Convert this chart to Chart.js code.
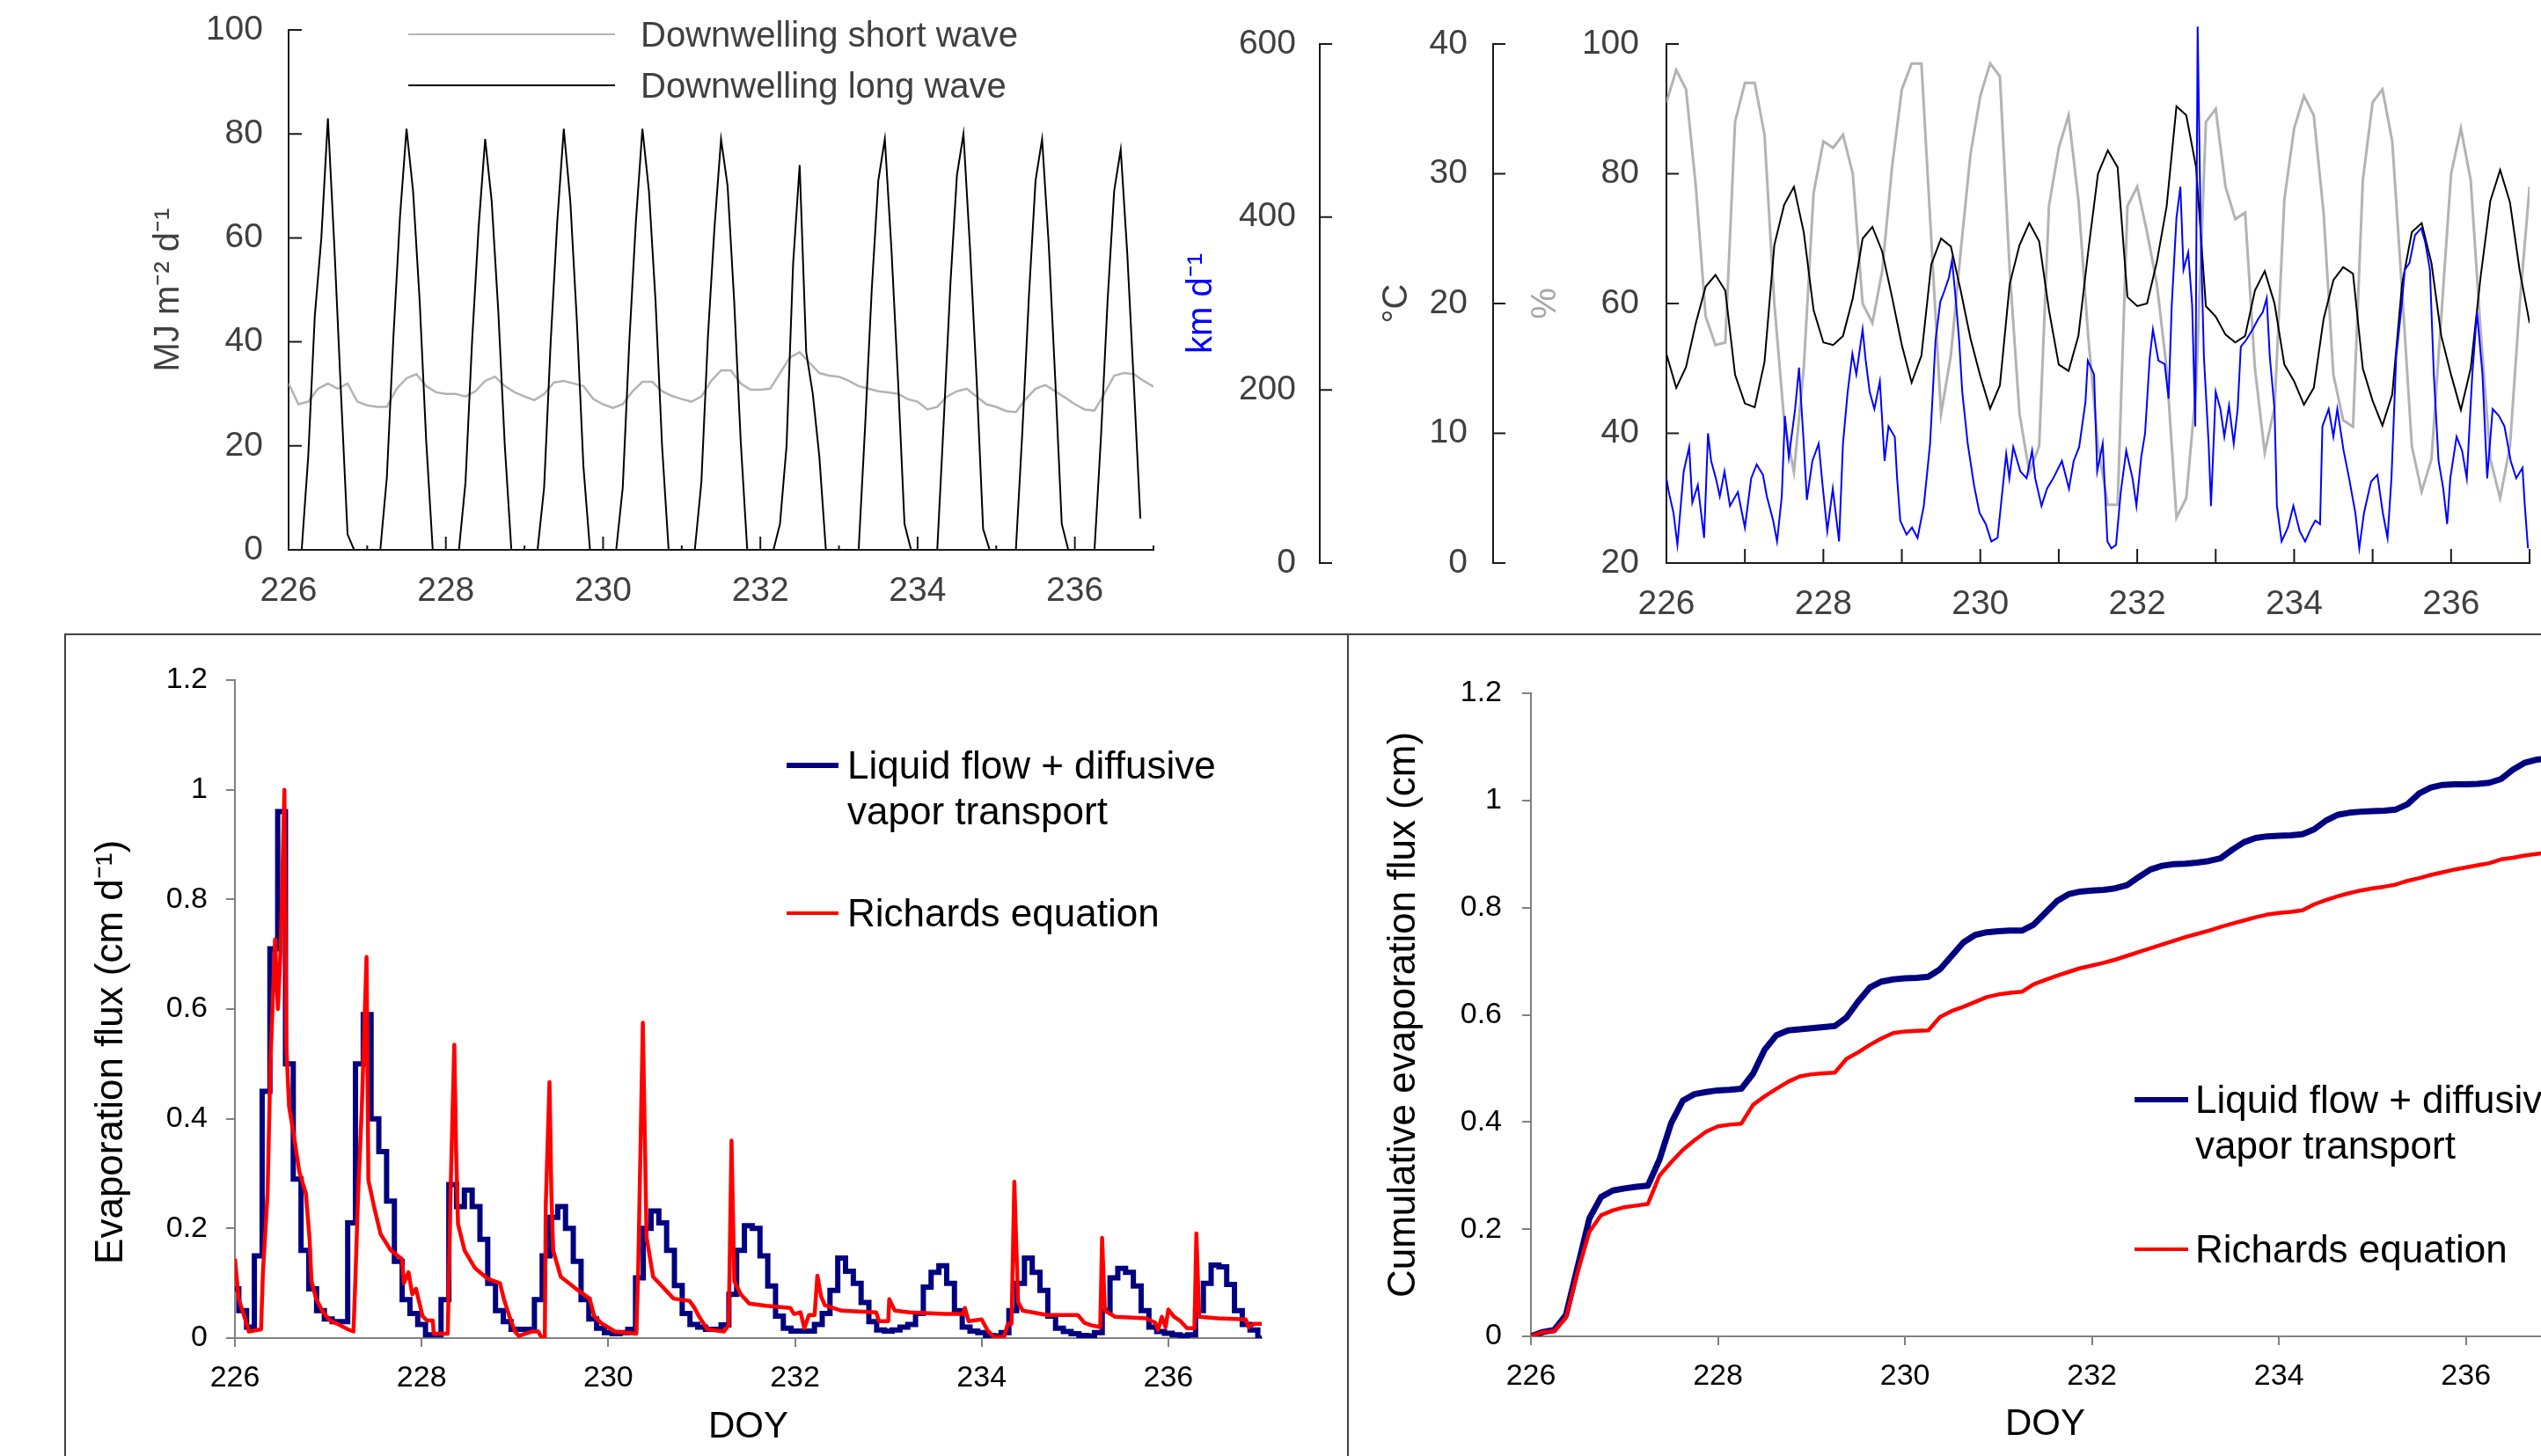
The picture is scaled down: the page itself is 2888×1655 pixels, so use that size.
<!DOCTYPE html>
<html>
<head>
<meta charset="utf-8">
<title>Radiation, weather and evaporation, DOY 226-237</title>
<script src="https://cdn.jsdelivr.net/npm/chart.js@4.4.1/dist/chart.umd.min.js"></script>
<style>
  html, body { margin: 0; padding: 0; background: #fff; width: 2888px; height: 1655px; overflow: hidden; }
  body { position: relative; font-family: 'Liberation Sans', Arial, sans-serif; }
  canvas { position: absolute; }
  .box { position: absolute; border: 2px solid #404040; box-sizing: border-box; }
  .leg { position: absolute; display: flex; align-items: flex-start; white-space: nowrap; }
  .leg .sw { display: block; flex: none; }
</style>
</head>
<body>
<div class="box" style="left:73px; top:720px; width:1460px; height:1100px;"></div>
<div class="box" style="left:1531px; top:720px; width:1500px; height:1100px;"></div>
<canvas id="c-rad" width="1320" height="720" style="left:0; top:0;"></canvas>
<canvas id="c-met" width="1568" height="720" style="left:1320px; top:0;"></canvas>
<canvas id="c-flux" width="1455" height="932" style="left:76px; top:723px;"></canvas>
<canvas id="c-cum" width="1450" height="932" style="left:1535px; top:723px;"></canvas>
<script>
// sampling grids (day of year)
const T_2H = Array.from({ length: 133 }, (_, i) => 226 + i / 12);
const T_3H = Array.from({ length: 89 }, (_, i) => 226 + i / 8);

// --- top left: radiation, MJ m-2 d-1 ---
const LONG_WAVE = [
  0, 0, 0, 18, 45, 60, 83, 58, 30, 3, 0, 0,
  0, 0, 0, 14, 41, 64, 81, 69, 48, 21, 0, 0,
  0, 0, 0, 13, 40, 62, 79, 67, 46, 20, 0, 0,
  0, 0, 0, 12, 40, 63, 81, 67, 44, 16, 0, 0,
  0, 0, 0, 12, 40, 63, 81, 69, 48, 20, 0, 0,
  0, 0, 0, 13, 41, 62, 79, 70, 48, 21, 0, 0,
  0, 0, 0, 5, 20, 55, 74, 38, 30, 18, 0, 0,
  0, 0, 0, 0, 24, 50, 71, 79, 58, 33, 5, 0,
  0, 0, 0, 0, 25, 51, 72, 80, 58, 33, 4, 0,
  0, 0, 0, 0, 23, 49, 71, 79, 59, 33, 5, 0,
  0, 0, 0, 0, 22, 48, 69, 77, 57, 32, 6,
];
const SHORT_WAVE = [
  32, 28, 28.5, 31, 32, 31, 32, 28.5,
  27.8, 27.5, 27.5, 31, 33, 33.8, 31.5, 30.3,
  30, 30, 29.5, 30.5, 32.5, 33.3, 31.5, 30.3,
  29.5, 28.8, 30, 32.2, 32.5, 32, 31.5, 29,
  28, 27.3, 28, 30.5, 32.3, 32.3, 30.5, 29.6,
  29, 28.5, 29.5, 32.5, 34.5, 34.5, 32, 30.8,
  30.8, 31, 34, 37, 38, 36, 34, 33.5,
  33.3, 32.5, 31.5, 31, 30.5, 30.3, 30, 29,
  28.5, 27, 27.5, 29.5, 30.5, 31, 29.5, 28,
  27.5, 26.7, 26.5, 29, 31, 31.7, 30.5, 29.3,
  28, 27, 26.8, 30, 33.5, 34, 33.8, 32.5,
  31.4,
];

// --- top right: wind (km d-1), air temperature (°C), relative humidity (%) ---
const WIND_T = [
  226.00, 226.03, 226.09, 226.14, 226.22, 226.29, 226.33, 226.40, 226.48, 226.53,
  226.57, 226.63, 226.68, 226.74, 226.81, 226.91, 227.00, 227.08, 227.15, 227.23,
  227.28, 227.36, 227.41, 227.47, 227.51, 227.56, 227.64, 227.69, 227.75, 227.79,
  227.86, 227.94, 227.99, 228.05, 228.12, 228.20, 228.25, 228.31, 228.37, 228.42,
  228.50, 228.54, 228.59, 228.65, 228.72, 228.78, 228.83, 228.91, 228.94, 228.98,
  229.06, 229.13, 229.20, 229.28, 229.36, 229.43, 229.49, 229.54, 229.60, 229.64,
  229.69, 229.73, 229.77, 229.84, 229.92, 229.99, 230.07, 230.14, 230.22, 230.33,
  230.37, 230.42, 230.51, 230.59, 230.66, 230.70, 230.78, 230.85, 230.93, 231.04,
  231.13, 231.19, 231.26, 231.34, 231.37, 231.45, 231.49, 231.56, 231.62, 231.67,
  231.73, 231.79, 231.86, 231.94, 231.99, 232.05, 232.10, 232.16, 232.20, 232.27,
  232.35, 232.40, 232.44, 232.50, 232.55, 232.59, 232.65, 232.70, 232.74, 232.77,
  232.81, 232.85, 232.91, 232.94, 233.00, 233.06, 233.11, 233.17, 233.23, 233.28,
  233.32, 233.39, 233.47, 233.54, 233.60, 233.65, 233.69, 233.75, 233.78, 233.84,
  233.92, 233.99, 234.07, 234.14, 234.22, 234.27, 234.33, 234.36, 234.44, 234.50,
  234.55, 234.63, 234.70, 234.78, 234.83, 234.89, 234.98, 235.06, 235.13, 235.19,
  235.24, 235.30, 235.37, 235.41, 235.47, 235.54, 235.62, 235.67, 235.73, 235.78,
  235.84, 235.90, 235.95, 235.99, 236.07, 236.14, 236.20, 236.27, 236.33, 236.40,
  236.46, 236.53, 236.61, 236.68, 236.76, 236.83, 236.91, 236.94, 236.98,
];
const WIND = [
  98, 82, 58, 21, 106, 134, 70, 90, 29, 150,
  118, 98, 77, 106, 66, 82, 41, 98, 114, 102,
  77, 49, 25, 77, 170, 122, 178, 226, 138, 73,
  118, 138, 90, 37, 86, 25, 138, 198, 242, 218,
  270, 234, 198, 178, 210, 118, 158, 146, 98, 49,
  33, 41, 29, 66, 138, 258, 302, 314, 330, 350,
  302, 258, 198, 138, 90, 58, 45, 25, 29, 126,
  98, 134, 106, 98, 130, 98, 66, 86, 98, 118,
  86, 118, 134, 186, 234, 218, 106, 138, 25, 17,
  21, 82, 130, 98, 66, 122, 150, 238, 270, 234,
  230, 190, 298, 399, 435, 339, 359, 298, 158, 620,
  379, 238, 138, 66, 198, 178, 146, 182, 138, 178,
  250, 258, 270, 282, 290, 306, 238, 178, 66, 25,
  41, 66, 37, 25, 41, 49, 45, 158, 178, 146,
  178, 130, 98, 58, 17, 58, 94, 102, 58, 29,
  98, 238, 298, 339, 347, 379, 387, 371, 339, 218,
  118, 86, 45, 98, 146, 130, 98, 218, 290, 218,
  98, 178, 170, 158, 118, 98, 110, 66, 17,
];
const AIR_TEMP = [
  16.1, 13.5, 15.1, 18.5, 21.3, 22.2, 21, 14.5,
  12.3, 12, 15.5, 24.5, 27.6, 29, 25.5, 19.5,
  17, 16.8, 17.5, 20.4, 25, 25.9, 24, 20.5,
  16.8, 13.9, 16, 23, 25, 24.4, 21, 17.3,
  14.4, 11.9, 13.7, 21.5, 24.5, 26.2, 24.8, 19.5,
  15.3, 14.8, 17.5, 24, 30, 31.8, 30.5, 20.5,
  19.8, 20, 23.2, 27.5, 35.2, 34.5, 30.5, 19.8,
  19, 17.6, 17, 17.5, 21, 22.5, 20, 15.3,
  14, 12.2, 13.5, 18.8, 21.8, 22.8, 22.3, 15,
  12.5, 10.6, 13, 21.5, 25.5, 26.2, 23.1, 17.5,
  14.5, 11.8, 15, 22, 27.9, 30.3, 27.8, 22.5,
  18.5,
];
const REL_HUM = [
  91, 96, 93, 78, 58, 53.6, 54, 88,
  94, 94, 86, 60, 42, 34, 50, 77,
  85, 84, 86, 80, 60, 57, 65, 81,
  93, 97, 97, 70, 43, 52, 68, 83,
  92, 97, 95, 65, 43, 34, 38, 75,
  84, 89, 76, 55, 38, 29, 29, 75,
  78, 71, 63, 50, 27, 30, 47, 88,
  90, 78, 73, 74, 50, 37, 44, 76,
  87, 92, 89, 74, 49, 42, 41, 79,
  91, 93, 85, 62, 38, 31, 36, 58,
  80, 87, 79, 56, 36, 30, 38, 60,
  78,
];

// --- bottom left: evaporation flux, cm d-1 ---
const FLUX_VAPOR = [
  0.09, 0.05, 0.02, 0.15, 0.45, 0.71, 0.96, 0.50, 0.29, 0.16, 0.09, 0.05,
  0.035, 0.03, 0.03, 0.21, 0.50, 0.59, 0.40, 0.34, 0.25, 0.14, 0.07, 0.045,
  0.025, 0.006, 0.006, 0.07, 0.28, 0.24, 0.27, 0.24, 0.18, 0.10, 0.05, 0.03,
  0.016, 0.016, 0.016, 0.07, 0.15, 0.22, 0.24, 0.2, 0.14, 0.07, 0.035, 0.018,
  0.01, 0.008, 0.01, 0.016, 0.11, 0.2, 0.232, 0.21, 0.16, 0.096, 0.045, 0.025,
  0.02, 0.016, 0.016, 0.024, 0.08, 0.16, 0.205, 0.2, 0.15, 0.095, 0.04, 0.018,
  0.013, 0.013, 0.013, 0.025, 0.045, 0.087, 0.146, 0.122, 0.1, 0.065, 0.03, 0.015,
  0.013, 0.015, 0.02, 0.025, 0.045, 0.093, 0.12, 0.132, 0.1, 0.05, 0.02, 0.013,
  0.01, 0.005, 0.004, 0.01, 0.05, 0.1, 0.146, 0.12, 0.087, 0.04, 0.018, 0.012,
  0.008, 0.005, 0.004, 0.01, 0.05, 0.11, 0.127, 0.12, 0.095, 0.05, 0.02, 0.012,
  0.009, 0.006, 0.004, 0.006, 0.05, 0.1, 0.133, 0.13, 0.098, 0.05, 0.025, 0.015,
  0,
];
const RICH_T = [
  226.00, 226.04, 226.10, 226.15, 226.28, 226.30, 226.35, 226.38, 226.43, 226.46,
  226.49, 226.53, 226.55, 226.58, 226.64, 226.69, 226.76, 226.80, 226.82, 226.87,
  226.94, 227.02, 227.12, 227.21, 227.27, 227.29, 227.32, 227.36, 227.41, 227.43,
  227.49, 227.56, 227.67, 227.79, 227.81, 227.86, 227.90, 227.94, 228.01, 228.06,
  228.12, 228.13, 228.28, 228.31, 228.35, 228.37, 228.39, 228.46, 228.57, 228.71,
  228.84, 228.88, 228.94, 229.00, 229.04, 229.18, 229.25, 229.29, 229.32, 229.33,
  229.37, 229.39, 229.41, 229.49, 229.67, 229.80, 229.85, 229.92, 230.07, 230.30,
  230.32, 230.37, 230.41, 230.48, 230.70, 230.87, 230.92, 230.97, 231.06, 231.24,
  231.29, 231.32, 231.35, 231.42, 231.51, 231.69, 231.95, 231.99, 232.06, 232.10,
  232.15, 232.21, 232.24, 232.28, 232.32, 232.50, 232.87, 232.90, 233.00, 233.01,
  233.07, 233.23, 233.60, 233.80, 233.82, 233.86, 234.00, 234.06, 234.13, 234.24,
  234.28, 234.32, 234.35, 234.39, 234.44, 234.70, 235.03, 235.10, 235.18, 235.27,
  235.29, 235.32, 235.43, 235.76, 235.86, 235.89, 235.93, 235.97, 236.00, 236.06,
  236.13, 236.20, 236.28, 236.30, 236.33, 236.53, 236.83, 236.86, 236.92, 237.00,
];
const RICH_FLUX = [
  0.145, 0.072, 0.040, 0.012, 0.016, 0.12, 0.264, 0.50, 0.727, 0.60,
  0.71, 1.00, 0.535, 0.423, 0.36, 0.303, 0.264, 0.18, 0.104, 0.072,
  0.048, 0.032, 0.024, 0.016, 0.012, 0.104, 0.264, 0.423, 0.695, 0.288,
  0.24, 0.19, 0.16, 0.144, 0.10, 0.12, 0.08, 0.09, 0.04, 0.032,
  0.032, 0.008, 0.008, 0.264, 0.535, 0.34, 0.208, 0.16, 0.128, 0.108,
  0.10, 0.072, 0.04, 0.012, 0.004, 0.012, 0.012, 0.0, 0.0, 0.24,
  0.467, 0.264, 0.16, 0.112, 0.088, 0.072, 0.04, 0.028, 0.012, 0.008,
  0.12, 0.575, 0.184, 0.112, 0.072, 0.068, 0.056, 0.04, 0.016, 0.012,
  0.024, 0.36, 0.104, 0.08, 0.063, 0.059, 0.055, 0.044, 0.047, 0.018,
  0.042, 0.042, 0.114, 0.076, 0.06, 0.05, 0.047, 0.031, 0.031, 0.071,
  0.05, 0.047, 0.044, 0.044, 0.055, 0.031, 0.034, 0.015, 0.002, 0.002,
  0.026, 0.026, 0.285, 0.066, 0.05, 0.042, 0.042, 0.028, 0.023, 0.02,
  0.183, 0.05, 0.039, 0.036, 0.028, 0.015, 0.039, 0.02, 0.052, 0.039,
  0.031, 0.018, 0.018, 0.191, 0.039, 0.036, 0.034, 0.02, 0.026, 0.026,
];

// --- bottom right: cumulative evaporation, cm ---
const CUM_VAPOR = [
  0, 0.008, 0.012, 0.04, 0.13, 0.22, 0.26, 0.272,
  0.276, 0.279, 0.281, 0.33, 0.398, 0.44, 0.452, 0.456,
  0.459, 0.46, 0.462, 0.49, 0.535, 0.562, 0.571, 0.573,
  0.575, 0.577, 0.579, 0.595, 0.625, 0.651, 0.662, 0.666,
  0.668, 0.669, 0.671, 0.685, 0.71, 0.735, 0.749, 0.754,
  0.756, 0.757, 0.757, 0.768, 0.79, 0.812, 0.825, 0.83,
  0.832, 0.833, 0.836, 0.842, 0.857, 0.871, 0.878, 0.881,
  0.882, 0.884, 0.887, 0.892, 0.908, 0.922, 0.93, 0.933,
  0.934, 0.935, 0.937, 0.946, 0.962, 0.973, 0.977, 0.979,
  0.98, 0.981, 0.983, 0.993, 1.013, 1.024, 1.029, 1.03,
  1.03, 1.031, 1.033, 1.04, 1.057, 1.07, 1.076, 1.078,
  1.079,
];
const CUM_RICH = [
  0, 0.008, 0.01, 0.035, 0.12, 0.195, 0.226, 0.235,
  0.241, 0.244, 0.247, 0.3, 0.325, 0.348, 0.366, 0.382,
  0.392, 0.395, 0.397, 0.432, 0.448, 0.462, 0.475, 0.485,
  0.489, 0.491, 0.492, 0.518, 0.53, 0.544, 0.556, 0.566,
  0.569, 0.57, 0.571, 0.596, 0.607, 0.615, 0.624, 0.633,
  0.638, 0.641, 0.643, 0.657, 0.665, 0.673, 0.68, 0.687,
  0.692, 0.697, 0.703, 0.71, 0.717, 0.724, 0.731, 0.738,
  0.745, 0.751, 0.757, 0.764, 0.77, 0.776, 0.782, 0.787,
  0.79, 0.792, 0.795, 0.806, 0.814, 0.821, 0.827, 0.832,
  0.836, 0.839, 0.843, 0.85, 0.855, 0.861, 0.866, 0.871,
  0.875, 0.879, 0.883, 0.89, 0.893, 0.897, 0.9, 0.903,
  0.906,
];

const NAVY = '#000080';
const RED = '#ff0000';
const GREY_LINE = '#b3b3b3';
const TEXT_TOP = '#404040';

Chart.defaults.font.family = "'Liberation Sans', Arial, sans-serif";
Chart.defaults.animation = false;
Chart.defaults.elements.point.radius = 0;
Chart.defaults.elements.line.tension = 0;
Chart.defaults.plugins.legend.display = false;
Chart.defaults.plugins.tooltip.enabled = false;

function xy(xs, ys) {
  return ys.map((y, i) => ({ x: xs[i], y }));
}

// short tick marks pointing into the plot, like the original figure
function innerTicks(axes) {
  return {
    id: 'innerTicks',
    afterDatasetsDraw(chart) {
      const { ctx } = chart;
      ctx.save();
      ctx.strokeStyle = '#1a1a1a';
      ctx.lineWidth = 2;
      ctx.beginPath();
      axes.forEach(({ id, major, minor = major, every = 1 }) => {
        const scale = chart.scales[id];
        scale.ticks.forEach((t) => {
          const len = (t.value - scale.min) % every === 0 ? major : minor;
          const p = scale.getPixelForValue(t.value);
          if (scale.isHorizontal()) {
            ctx.moveTo(p, scale.top);
            ctx.lineTo(p, scale.top - len);
          } else {
            ctx.moveTo(scale.right, p);
            ctx.lineTo(scale.right + len, p);
          }
        });
      });
      ctx.stroke();
      ctx.restore();
    },
  };
}

// the label gap is given as an (undrawn) tick length, so that it does not
// widen the layout padding the way ticks.padding does
function topAxisX(height) {
  return {
    type: 'linear', min: 226, max: 237,
    grid: { display: false, drawTicks: true, tickLength: 24 },
    border: { color: '#1a1a1a', width: 2 },
    ticks: {
      stepSize: 1, autoSkip: false, maxRotation: 0, padding: 0,
      font: { size: 39 }, color: TEXT_TOP,
      callback: (v) => (v % 2 === 0 ? v : ''),
    },
    afterFit: (s) => { s.height = height; },
  };
}

function topAxisY(opts) {
  return {
    position: 'left', weight: opts.weight || 0,
    min: opts.min, max: opts.max,
    grid: { display: false, drawTicks: true, tickLength: opts.pad },
    border: { color: '#1a1a1a', width: 2 },
    ticks: { stepSize: opts.step, padding: 0, font: { size: 39 }, color: TEXT_TOP },
    title: {
      display: true, text: opts.title, color: opts.titleColor || TEXT_TOP,
      font: { size: 40 }, padding: { top: opts.titlePad, bottom: 0 },
    },
    afterFit: (s) => { s.width = opts.width; },
  };
}

function bottomAxisX(height, titlePad) {
  return {
    type: 'linear', min: 226, max: 237,
    grid: { display: true, drawOnChartArea: false, drawTicks: true, tickLength: 10, color: '#808080', lineWidth: 2 },
    border: { color: '#808080', width: 2 },
    ticks: { stepSize: 2, includeBounds: false, autoSkip: false, maxRotation: 0, padding: 15, font: { size: 34 }, color: '#000' },
    title: { display: true, text: 'DOY', color: '#000', font: { size: 42 }, padding: { top: 0, bottom: titlePad } },
    afterFit: (s) => { s.height = height; },
  };
}

function bottomAxisY(text, width, titlePad, tickPad) {
  return {
    min: 0, max: 1.2,
    grid: { display: true, drawOnChartArea: false, drawTicks: true, tickLength: 10, color: '#808080', lineWidth: 2 },
    border: { color: '#808080', width: 2 },
    ticks: {
      stepSize: 0.2, padding: tickPad, font: { size: 34 }, color: '#000',
      callback: (v) => String(Math.round(v * 10) / 10),
    },
    title: { display: true, text, color: '#000', font: { size: 44 }, padding: { top: titlePad, bottom: 0 } },
    afterFit: (s) => { s.width = width; },
  };
}

// top left: radiation
new Chart(document.getElementById('c-rad'), {
  type: 'line',
  data: {
    datasets: [
      { label: 'Downwelling long wave', data: xy(T_2H, LONG_WAVE), borderColor: '#000', borderWidth: 2 },
      { label: 'Downwelling short wave', data: xy(T_3H, SHORT_WAVE), borderColor: GREY_LINE, borderWidth: 2.5 },
    ],
  },
  options: {
    responsive: false, devicePixelRatio: 1,
    layout: { padding: { left: 0, top: 34, right: 9, bottom: 5 } },
    scales: {
      x: topAxisX(90),
      y: topAxisY({ min: 0, max: 100, step: 20, pad: 29, title: 'MJ m\u207B\u00B2 d\u207B\u00B9', titlePad: 168, width: 328 }),
    },
  },
  plugins: [innerTicks([{ id: 'x', major: 15, minor: 5, every: 2 }, { id: 'y', major: 15 }])],
});

// top right: wind, temperature, humidity
new Chart(document.getElementById('c-met'), {
  type: 'line',
  data: {
    datasets: [
      { label: 'Wind run', data: xy(WIND_T, WIND), yAxisID: 'yW', borderColor: '#0000ff', borderWidth: 2, clip: false },
      { label: 'Air temperature', data: xy(T_3H, AIR_TEMP), yAxisID: 'yT', borderColor: '#000', borderWidth: 2 },
      { label: 'Relative humidity', data: xy(T_3H, REL_HUM), yAxisID: 'yRH', borderColor: GREY_LINE, borderWidth: 3 },
    ],
  },
  options: {
    responsive: false, devicePixelRatio: 1,
    layout: { padding: { left: 0, top: 50, right: 13, bottom: 5 } },
    scales: {
      x: topAxisX(75),
      yRH: topAxisY({ weight: 0, min: 20, max: 100, step: 20, pad: 31, title: '%', titleColor: '#a6a6a6', titlePad: 36, width: 197 }),
      yT: topAxisY({ weight: 1, min: 0, max: 40, step: 10, pad: 29, title: '\u00B0C', titlePad: 64, width: 197 }),
      yW: topAxisY({ weight: 2, min: 0, max: 600, step: 200, pad: 27, title: 'km d\u207B\u00B9', titleColor: '#0000ff', titlePad: 22, width: 180 }),
    },
  },
  plugins: [innerTicks([
    { id: 'x', major: 16 },
    { id: 'yRH', major: 14 }, { id: 'yT', major: 14 }, { id: 'yW', major: 14 },
  ])],
});

// bottom left: evaporation flux
new Chart(document.getElementById('c-flux'), {
  type: 'line',
  data: {
    datasets: [
      { label: 'Richards equation', data: xy(RICH_T, RICH_FLUX), borderColor: RED, borderWidth: 4.5, borderJoinStyle: 'round' },
      { label: 'Liquid flow + diffusive vapor transport', data: xy(T_2H, FLUX_VAPOR), borderColor: NAVY, borderWidth: 6, stepped: 'middle' },
    ],
  },
  options: {
    responsive: false, devicePixelRatio: 1,
    layout: { padding: { left: 0, top: 50, right: 97, bottom: 0 } },
    scales: {
      x: bottomAxisX(134, 7),
      y: bottomAxisY('Evaporation flux (cm d\u207B\u00B9)' + '\u00A0'.repeat(8), 191, 24, 21),
    },
  },
});

// bottom right: cumulative evaporation
new Chart(document.getElementById('c-cum'), {
  type: 'line',
  data: {
    datasets: [
      { label: 'Richards equation', data: xy(T_3H, CUM_RICH), borderColor: RED, borderWidth: 4.5, borderJoinStyle: 'round' },
      { label: 'Liquid flow + diffusive vapor transport', data: xy(T_3H, CUM_VAPOR), borderColor: NAVY, borderWidth: 7, borderJoinStyle: 'round' },
    ],
  },
  options: {
    responsive: false, devicePixelRatio: 1,
    layout: { padding: { left: 0, top: 65, right: 76, bottom: 0 } },
    scales: {
      x: bottomAxisX(136, 10),
      y: bottomAxisY('Cumulative evaporation flux (cm)', 205, 34, 23),
    },
  },
});

// legends
function legendItem(left, centerY, lines, sw, font) {
  const el = document.createElement('div');
  el.className = 'leg';
  el.style.cssText = `left:${left}px;top:${centerY - font.lh / 2}px;font-size:${font.size}px;line-height:${font.lh}px;color:${font.color}`;
  const line = document.createElement('span');
  line.className = 'sw';
  line.style.cssText = `width:${sw.w}px;height:${sw.t}px;background:${sw.color};margin:${(font.lh - sw.t) / 2}px ${sw.gap}px 0 0`;
  const txt = document.createElement('span');
  txt.innerHTML = lines.join('<br>');
  el.append(line, txt);
  document.body.appendChild(el);
}

const topFont = { size: 40, lh: 48, color: TEXT_TOP };
legendItem(464, 39, ['Downwelling short wave'], { w: 235, t: 2, gap: 29, color: GREY_LINE }, topFont);
legendItem(464, 97, ['Downwelling long wave'], { w: 235, t: 2, gap: 29, color: '#000' }, topFont);

const botFont = { size: 44, lh: 52, color: '#000' };
legendItem(894, 870, ['Liquid flow + diffusive', 'vapor transport'], { w: 59, t: 6, gap: 10, color: NAVY }, botFont);
legendItem(894, 1038, ['Richards equation'], { w: 59, t: 4, gap: 10, color: RED }, botFont);
legendItem(2426, 1250, ['Liquid flow + diffusive', 'vapor transport'], { w: 61, t: 6, gap: 8, color: NAVY }, botFont);
legendItem(2426, 1420, ['Richards equation'], { w: 61, t: 4, gap: 8, color: RED }, botFont);
</script>
</body>
</html>
